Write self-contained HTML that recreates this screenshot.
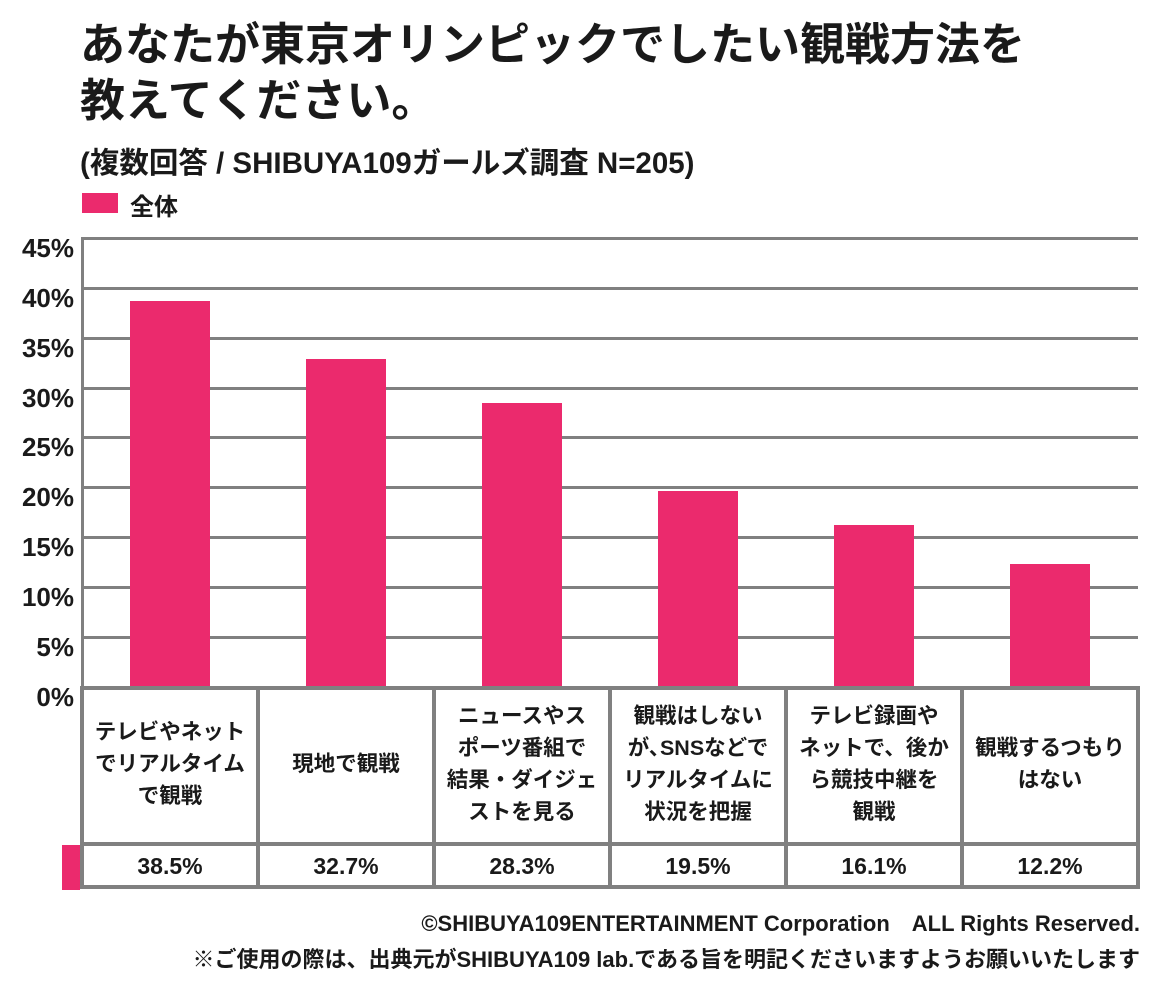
<!DOCTYPE html><html><head><meta charset="utf-8"><style>
body{margin:0;width:1160px;height:990px;background:#fff;position:relative;overflow:hidden;font-family:"Liberation Sans","Noto Sans CJK JP",sans-serif;font-weight:bold;color:#1a1a1a}
.a{position:absolute}
.t{font-size:45px;line-height:56px;left:80px;top:17px;white-space:nowrap}
.g{position:absolute;left:82px;width:1056px;height:3px;background:#808080}
.yl{position:absolute;left:0;width:74px;text-align:right;font-size:26px;line-height:26px}
.bar{position:absolute;width:80px;background:#eb2a6d}
.v{position:absolute;width:3px;background:#808080}
.cell{position:absolute;width:176px;text-align:center;font-size:21.5px;line-height:32px;display:flex;align-items:center;justify-content:center;white-space:nowrap}
.val{font-size:23px}
</style></head><body>
<div class="a t">あなたが東京オリンピックでしたい観戦方法を<br>教えてください。</div>
<div class="a" style="left:80px;top:140px;font-size:29.5px;white-space:nowrap">(複数回答 / SHIBUYA109ガールズ調査 N=205)</div>
<div class="a" style="left:82px;top:193px;width:36px;height:20px;background:#eb2a6d"></div>
<div class="a" style="left:130px;top:187px;font-size:24px">全体</div>
<div class="g" style="top:237px"></div><div class="g" style="top:287px"></div><div class="g" style="top:337px"></div><div class="g" style="top:387px"></div><div class="g" style="top:436px"></div><div class="g" style="top:486px"></div><div class="g" style="top:536px"></div><div class="g" style="top:586px"></div><div class="g" style="top:636px"></div>
<div class="yl" style="top:235px">45%</div><div class="yl" style="top:285px">40%</div><div class="yl" style="top:335px">35%</div><div class="yl" style="top:385px">30%</div><div class="yl" style="top:434px">25%</div><div class="yl" style="top:484px">20%</div><div class="yl" style="top:534px">15%</div><div class="yl" style="top:584px">10%</div><div class="yl" style="top:634px">5%</div><div class="yl" style="top:684px">0%</div>
<div class="v" style="left:81px;top:237px;height:450px"></div>
<div class="bar" style="left:130px;top:301px;height:386px"></div>
<div class="bar" style="left:306px;top:359px;height:328px"></div>
<div class="bar" style="left:482px;top:403px;height:284px"></div>
<div class="bar" style="left:658px;top:491px;height:196px"></div>
<div class="bar" style="left:834px;top:525px;height:162px"></div>
<div class="bar" style="left:1010px;top:564px;height:123px"></div>
<div class="g" style="top:686px;height:4px"></div>
<div class="g" style="top:842px;height:4px"></div>
<div class="g" style="top:885px;height:4px"></div>
<div class="v" style="left:80px;top:686px;height:203px;width:4px"></div>
<div class="v" style="left:256px;top:686px;height:203px;width:4px"></div>
<div class="v" style="left:432px;top:686px;height:203px;width:4px"></div>
<div class="v" style="left:608px;top:686px;height:203px;width:4px"></div>
<div class="v" style="left:784px;top:686px;height:203px;width:4px"></div>
<div class="v" style="left:960px;top:686px;height:203px;width:4px"></div>
<div class="v" style="left:1136px;top:686px;height:203px;width:4px"></div>
<div class="a" style="left:62px;top:845px;width:18px;height:45px;background:#eb2a6d"></div>
<div class="cell" style="left:82px;top:702px;height:124px">テレビやネット<br>でリアルタイム<br>で観戦</div>
<div class="cell" style="left:258px;top:702px;height:124px">現地で観戦</div>
<div class="cell" style="left:434px;top:702px;height:124px">ニュースやス<br>ポーツ番組で<br>結果・ダイジェ<br>ストを見る</div>
<div class="cell" style="left:610px;top:702px;height:124px">観戦はしない<br>が､SNSなどで<br>リアルタイムに<br>状況を把握</div>
<div class="cell" style="left:786px;top:702px;height:124px">テレビ録画や<br>ネットで、後か<br>ら競技中継を<br>観戦</div>
<div class="cell" style="left:962px;top:702px;height:124px">観戦するつもり<br>はない</div>
<div class="cell val" style="left:82px;top:848px;height:36px">38.5%</div>
<div class="cell val" style="left:258px;top:848px;height:36px">32.7%</div>
<div class="cell val" style="left:434px;top:848px;height:36px">28.3%</div>
<div class="cell val" style="left:610px;top:848px;height:36px">19.5%</div>
<div class="cell val" style="left:786px;top:848px;height:36px">16.1%</div>
<div class="cell val" style="left:962px;top:848px;height:36px">12.2%</div>
<div class="a" style="right:20px;top:906px;font-size:22px;white-space:pre">©SHIBUYA109ENTERTAINMENT Corporation　ALL Rights Reserved.</div>
<div class="a" style="right:20px;top:942px;font-size:22px;white-space:nowrap">※ご使用の際は、出典元がSHIBUYA109 lab.である旨を明記くださいますようお願いいたします</div>
</body></html>
